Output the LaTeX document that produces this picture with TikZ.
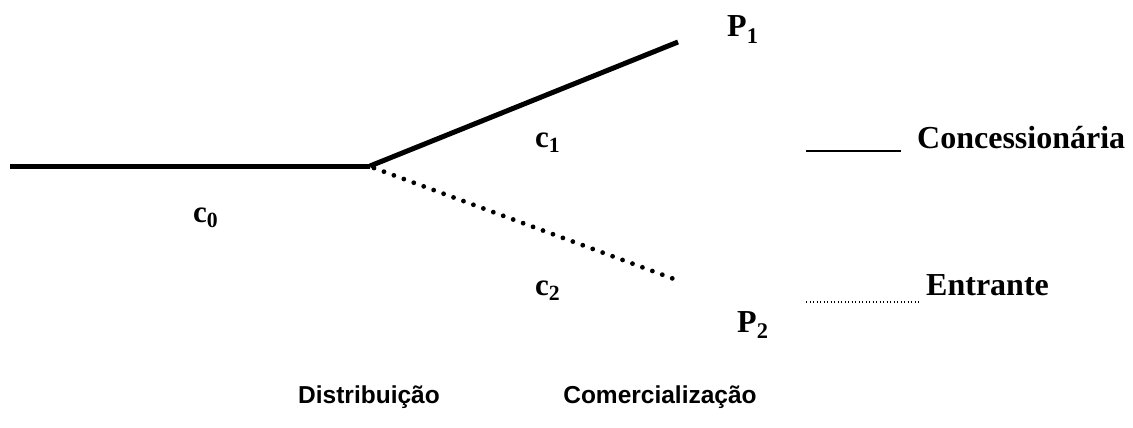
\documentclass[tikz,border=0pt]{standalone}
\usepackage{fontspec}
\setmainfont{Liberation Serif}
\setsansfont{Liberation Sans}
\usetikzlibrary{positioning}

\begin{document}
\begin{tikzpicture}[x=1pt,y=-1pt,
    lbl/.style={font=\fontsize{32}{36}\selectfont\bfseries,inner sep=0pt,anchor=base west},
    seglbl/.style={font=\fontsize{31}{34}\selectfont\bfseries,inner sep=0pt,anchor=base west},
    stage/.style={font=\sffamily\fontsize{24.5}{28}\selectfont\bfseries,inner sep=0pt},
    firm/.style={line width=5pt},
    rival/.style={line width=4.8pt,line cap=round,dash pattern=on 0pt off 10.6pt}]
    \useasboundingbox (0,0) rectangle (1133,428);

    \coordinate (a) at (10,166);
    \coordinate (b) at (370,166);
    \coordinate (p1) at (678,42);
    \coordinate (p2) at (674,279);

    \draw[firm] (a) -- (b);
    \draw[firm] (b) -- (p1);
    \draw[rival] (b) ++(4,2) -- (p2);

    \node[lbl] (P1) at (727,37) {P\textsubscript{1}};
    \node[lbl] (P2) at (737,332) {P\textsubscript{2}};
    \node[seglbl] (c0) at (193,222) {c\textsubscript{0}};
    \node[seglbl] (c1) at (535,147) {c\textsubscript{1}};
    \node[seglbl] (c2) at (535,295) {c\textsubscript{2}};

    % legenda
    \node[lbl] (conc) at (917,148) {Concessionária};
    \node[lbl] (entr) at (926,295) {Entrante};
    \coordinate (l1) at (806,151);
    \coordinate (l2) at (806,302);
    \draw[line width=1.6pt] (l1) -- ([xshift=-16pt]conc.base west |- l1);
    \draw[line width=1.4pt,dash pattern=on 1pt off 2.5pt] (l2) -- ([xshift=-6pt]entr.base west |- l2);

    \node[stage] (dist) at (369,397) {Distribuição};
    \node[stage] (comer) at (660,397) {Comercialização};
\end{tikzpicture}
\end{document}
